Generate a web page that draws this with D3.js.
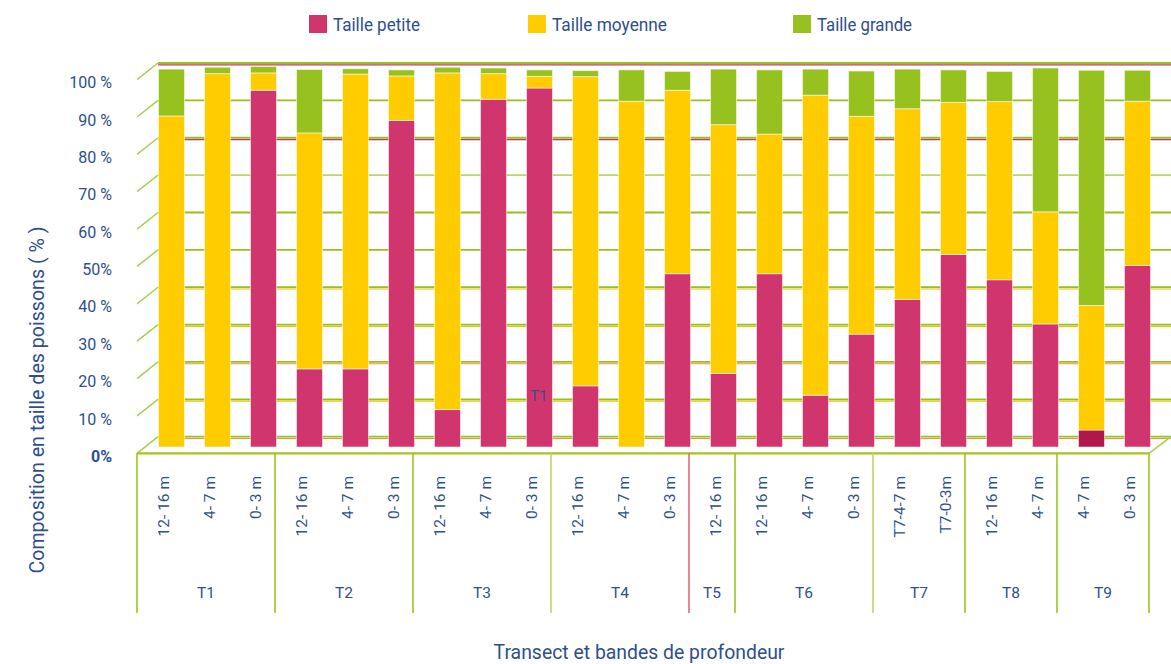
<!DOCTYPE html>
<html lang="fr">
<head>
<meta charset="utf-8">
<script src="https://cdn.jsdelivr.net/npm/d3@7/dist/d3.min.js"></script>
<style>
  html, body { margin: 0; padding: 0; background: #fff; }
  svg { display: block; font-family: Roboto, "Noto Sans", sans-serif; }
</style>
</head>
<body>
<svg id="chart" width="1171" height="664"></svg>
<script>
// Depth bands per transect
const transects = ["T1", "T2", "T3", "T4", "T5", "T6", "T7", "T8", "T9"];
const groupSizes = [3, 3, 3, 3, 1, 3, 2, 2, 2];
const categories = [
  "12- 16 m", "4- 7 m", "0- 3 m",
  "12- 16 m", "4- 7 m", "0- 3 m",
  "12- 16 m", "4- 7 m", "0- 3 m",
  "12- 16 m", "4- 7 m", "0- 3 m",
  "12- 16 m",
  "12- 16 m", "4- 7 m", "0- 3 m",
  "T7-4-7 m", "T7-0-3m",
  "12- 16 m", "4- 7 m",
  "4- 7 m", "0- 3 m"
];

// Size composition (%) per band
const petite  = [0, 0, 94.5, 20.7, 20.7, 86.5, 9.9, 92.1, 95.1, 16.2, 0, 45.9, 19.5, 45.9, 13.7, 29.9, 39.1, 51.0, 44.3, 32.6, 4.5, 48.1];
const moyenne = [87.7, 98.9, 4.6, 62.5, 78.1, 11.8, 89.2, 6.8, 3.1, 81.9, 91.6, 48.6, 65.9, 37.0, 79.5, 57.7, 50.5, 40.3, 47.2, 29.7, 33.0, 43.5];
const grande  = [12.4, 1.7, 1.7, 16.8, 1.4, 1.6, 1.5, 1.5, 1.7, 1.6, 8.3, 5.0, 14.7, 17.0, 6.9, 12.0, 10.5, 8.6, 8.0, 38.1, 62.3, 8.2];

const seriesNames = ["Taille petite", "Taille moyenne", "Taille grande"];
const yTicks = [0, 10, 20, 30, 40, 50, 60, 70, 80, 90, 100];
const yTickLabels = ["0%", "10 %", "20 %", "30 %", "40 %", "50%", "60 %", "70 %", "80 %", "90 %", "100 %"];

// ---- styling ----
const colors = ["#d0356d", "#ffcc00", "#97c11f"];
const darkPetite = "#b0174a";     // T9 4-7 m small-fish segment is drawn darker
const darkPetiteIndex = 20;
const textColor = "#2d4f8e";
const gridGreen = "#95c11f";
// secondary line drawn just under some grid lines
const gridAccent = { 100: "#c8336a", 80: "#c8336a", 40: "#f2c200", 30: "#f2c200", 20: "#e8963c", 10: "#f2c200", 0: "#e8963c" };

const svg = d3.select("#chart");

// ---- geometry of the pseudo-3D frame ----
const depthX = 21, depthY = -16.6;
const frontLeft = 137, frontRight = 1149;
const yBack = d3.scaleLinear().domain([0, 100]).range([436.7, 63]);
const yBar = d3.scaleLinear().domain([0, 100]).range([447, 69.5]);
const x = d3.scaleBand().domain(d3.range(categories.length)).range([frontLeft, frontRight]).padding(0);
const barW = 26;
const barShift = 11.5;

// back-wall grid lines
const grid = svg.append("g");
yTicks.forEach(t => {
  const y = yBack(t);
  if (gridAccent[t]) {
    grid.append("line").attr("x1", frontLeft + depthX).attr("x2", 1171)
      .attr("y1", y + 1.8).attr("y2", y + 1.8)
      .attr("stroke", gridAccent[t]).attr("stroke-width", 1.2);
  }
  grid.append("line").attr("x1", frontLeft + depthX).attr("x2", 1171)
    .attr("y1", y).attr("y2", y)
    .attr("stroke", t === 70 ? "#b9d66b" : gridGreen).attr("stroke-width", 1.8);
  // side-wall diagonal
  grid.append("line")
    .attr("x1", frontLeft).attr("y1", y - depthY)
    .attr("x2", frontLeft + depthX).attr("y2", y)
    .attr("stroke", "#a9cf4c").attr("stroke-width", 1.5);
});

// floor right edge
svg.append("line")
  .attr("x1", frontRight).attr("y1", yBack(0) - depthY)
  .attr("x2", frontRight + depthX + 1).attr("y2", yBack(0))
  .attr("stroke", "#a9cf4c").attr("stroke-width", 1.5);

// stacked columns
const rows = categories.map((c, i) => ({ i, petite: petite[i], moyenne: moyenne[i], grande: grande[i] }));
const stack = d3.stack().keys(["petite", "moyenne", "grande"]);
const layers = stack(rows);

svg.append("g").selectAll("g")
  .data(layers)
  .join("g")
  .each(function (layer, k) {
    d3.select(this).selectAll("rect")
      .data(layer.filter(d => d[1] - d[0] > 0))
      .join("rect")
      .attr("x", d => x(d.data.i) + x.bandwidth() / 2 + barShift - barW / 2)
      .attr("width", barW)
      .attr("y", d => yBar(d[1]))
      .attr("height", d => yBar(d[0]) - yBar(d[1]))
      .attr("fill", d => (k === 0 && d.data.i === darkPetiteIndex) ? darkPetite : colors[k])
      .attr("stroke", "rgba(255,255,255,0.6)")
      .attr("stroke-width", 0.9);
  });

// stray label sitting in the plot area
svg.append("text")
  .attr("x", 530).attr("y", 401)
  .attr("fill", "#3a4f8c").attr("font-size", 15)
  .text("T1");

// ---- category axis boxes ----
const axisTop = yBack(0) - depthY;
const axisBottom = 613;
svg.append("line")
  .attr("x1", frontLeft).attr("x2", frontRight)
  .attr("y1", axisTop).attr("y2", axisTop)
  .attr("stroke", "#a8c41c").attr("stroke-width", 2.2);

let start = 0;
const bounds = [];
groupSizes.forEach((n, g) => {
  bounds.push({ g, x0: x(start), x1: x(start + n - 1) + x.bandwidth() });
  start += n;
});

const sepColor = (g) => g === 4 ? "#e06a7a" : (g === 3 || g === 6 ? "#bcd86a" : "#9dc41f");
bounds.forEach(b => {
  svg.append("line")
    .attr("x1", b.x0).attr("x2", b.x0)
    .attr("y1", axisTop).attr("y2", axisBottom)
    .attr("stroke", sepColor(b.g)).attr("stroke-width", 1.6);
  svg.append("text")
    .attr("x", (b.x0 + b.x1) / 2).attr("y", 598)
    .attr("text-anchor", "middle")
    .attr("fill", textColor).attr("font-size", 15.5)
    .text(transects[b.g]);
});
svg.append("line")
  .attr("x1", frontRight).attr("x2", frontRight)
  .attr("y1", axisTop).attr("y2", axisBottom)
  .attr("stroke", "#9dc41f").attr("stroke-width", 1.6);

// rotated band labels
svg.append("g").selectAll("text")
  .data(categories)
  .join("text")
  .attr("transform", (d, i) => `translate(${x(i) + x.bandwidth() / 2 + 4},476) rotate(-90)`)
  .attr("text-anchor", "end")
  .attr("dy", "0.35em")
  .attr("fill", textColor).attr("font-size", 15.5)
  .style("white-space", "pre")
  .text(d => d);

// ---- value axis labels ----
svg.append("g").selectAll("text")
  .data(yTicks)
  .join("text")
  .attr("x", 112)
  .attr("y", t => yBack(t) - depthY + 3)
  .attr("dy", "0.35em")
  .attr("text-anchor", "end")
  .attr("fill", textColor)
  .attr("font-size", 16)
  .attr("font-weight", t => t === 0 ? 700 : 400)
  .text((t, i) => yTickLabels[i]);

// axis titles
svg.append("text")
  .attr("transform", "translate(44,400) rotate(-90)")
  .attr("text-anchor", "middle")
  .attr("fill", textColor).attr("font-size", 19.6)
  .text("Composition en taille des poissons ( % )");

svg.append("text")
  .attr("x", 639).attr("y", 659)
  .attr("text-anchor", "middle")
  .attr("fill", textColor).attr("font-size", 19.4)
  .text("Transect et bandes de profondeur");

// ---- legend ----
const legendX = [309, 528, 793];
const legendW = [87, 115, 95];
const legend = svg.append("g");
seriesNames.forEach((name, k) => {
  legend.append("rect")
    .attr("x", legendX[k]).attr("y", 15)
    .attr("width", 18).attr("height", 18)
    .attr("fill", colors[k]);
  legend.append("text")
    .attr("x", legendX[k] + 24).attr("y", 31)
    .attr("fill", textColor).attr("font-size", 19)
    .attr("textLength", legendW[k]).attr("lengthAdjust", "spacingAndGlyphs")
    .text(name);
});
</script>
</body>
</html>
